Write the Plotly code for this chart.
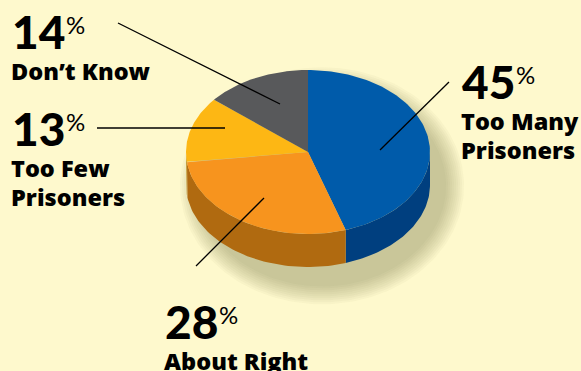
import numpy as np
import plotly.graph_objects as go

# ---- data ----
categories = ["Too Many Prisoners", "About Right", "Too Few Prisoners", "Don’t Know"]
values = [45, 28, 13, 14]
pct_text = ["45", "28", "13", "14"]
label_lines = [["Too Many", "Prisoners"], ["About Right"], ["Too Few", "Prisoners"], ["Don’t Know"]]

# ---- style / layout ----
top_colors = ["#005BAA", "#F7941E", "#FDB714", "#58595B"]
side_colors = ["#003F7F", "#B06A10", "#B88510", "#3A3B3D"]
BG = "#FEF9CD"
W, H = 581, 371
CX, CY, RX, RY, DEPTH = 308, 152, 122, 82, 33
DIG_FONT = "Lato"
LAB_FONT = "Open Sans"
BIG, SMALL, PCT = 46, 23.5, 24
# label anchor (left x, top of digits y) in pixels
label_pos = [(462, 65), (165, 305), (12, 112), (12, 15)]
line_gap = 29
# callout lines: (outer end) -> (inner end)
callouts = [((449, 82), (380, 150)), ((196, 266), (264, 198)),
            ((97, 128), (225, 128)), ((118, 23), (280, 104))]


def pt(t, dy=0.0):
    r = np.radians(t)
    return CX + RX * np.sin(r), CY - RY * np.cos(r) + dy


fig = go.Figure()

# soft shadow
for i in range(10):
    k = 10 - i
    t = np.linspace(0, 360, 180)
    xs = CX + 14 + (RX + 2 * k) * np.sin(np.radians(t))
    ys = CY + DEPTH * 0.6 + 14 - (RY + DEPTH * 0.5 + 2 * k) * np.cos(np.radians(t))
    fig.add_trace(go.Scatter(x=xs, y=ys, fill="toself", mode="lines", line=dict(width=0),
                             fillcolor="rgba(120,110,70,0.045)", hoverinfo="skip", showlegend=False))

total = float(sum(values))
bounds = np.concatenate([[0], np.cumsum(values) / total * 360])

# sides
for i in range(len(values)):
    a, b = max(bounds[i], 90), min(bounds[i + 1], 270)
    if b <= a:
        continue
    t = np.linspace(a, b, 60)
    xt, yt = pt(t)
    xb, yb = pt(t[::-1], DEPTH)
    fig.add_trace(go.Scatter(x=np.concatenate([xt, xb]), y=np.concatenate([yt, yb]),
                             fill="toself", mode="lines", line=dict(width=0),
                             fillcolor=side_colors[i], hoverinfo="skip", showlegend=False))

# tops
for i in range(len(values)):
    t = np.linspace(bounds[i], bounds[i + 1], 120)
    xa, ya = pt(t)
    fig.add_trace(go.Scatter(x=np.concatenate([[CX], xa, [CX]]), y=np.concatenate([[CY], ya, [CY]]),
                             fill="toself", mode="lines", line=dict(width=0),
                             fillcolor=top_colors[i], name=categories[i],
                             hoverinfo="name", showlegend=False))

# callout lines
for (o, n) in callouts:
    fig.add_trace(go.Scatter(x=[o[0], n[0]], y=[o[1], n[1]], mode="lines",
                             line=dict(color="black", width=1.3), hoverinfo="skip", showlegend=False))

ann = []
for i in range(len(values)):
    lx, ly = label_pos[i]
    ann.append(dict(x=lx - 2, y=ly - 0.27 * BIG - 1, text=pct_text[i], xanchor="left", yanchor="top",
                    showarrow=False, xref="x", yref="y",
                    font=dict(family=DIG_FONT, size=BIG, color="black", weight=900)))
    ann.append(dict(x=lx + 52, y=ly - 0.27 * PCT - 1, text="%", xanchor="left", yanchor="top",
                    showarrow=False, xref="x", yref="y",
                    font=dict(family=DIG_FONT, size=PCT, color="black", weight=400)))
    for j, s in enumerate(label_lines[i]):
        top = ly + 47 + j * line_gap
        ann.append(dict(x=lx - 3, y=top - 0.33 * SMALL - 1, text=s, xanchor="left", yanchor="top",
                        showarrow=False, xref="x", yref="y",
                        font=dict(family=LAB_FONT, size=SMALL, color="black", weight=800)))

fig.update_layout(
    width=W, height=H, margin=dict(l=0, r=0, t=0, b=0),
    paper_bgcolor=BG, plot_bgcolor=BG,
    xaxis=dict(range=[0, W], visible=False, fixedrange=True),
    yaxis=dict(range=[H, 0], visible=False, fixedrange=True),
    annotations=ann, showlegend=False,
)
fig.write_html("out.html")
